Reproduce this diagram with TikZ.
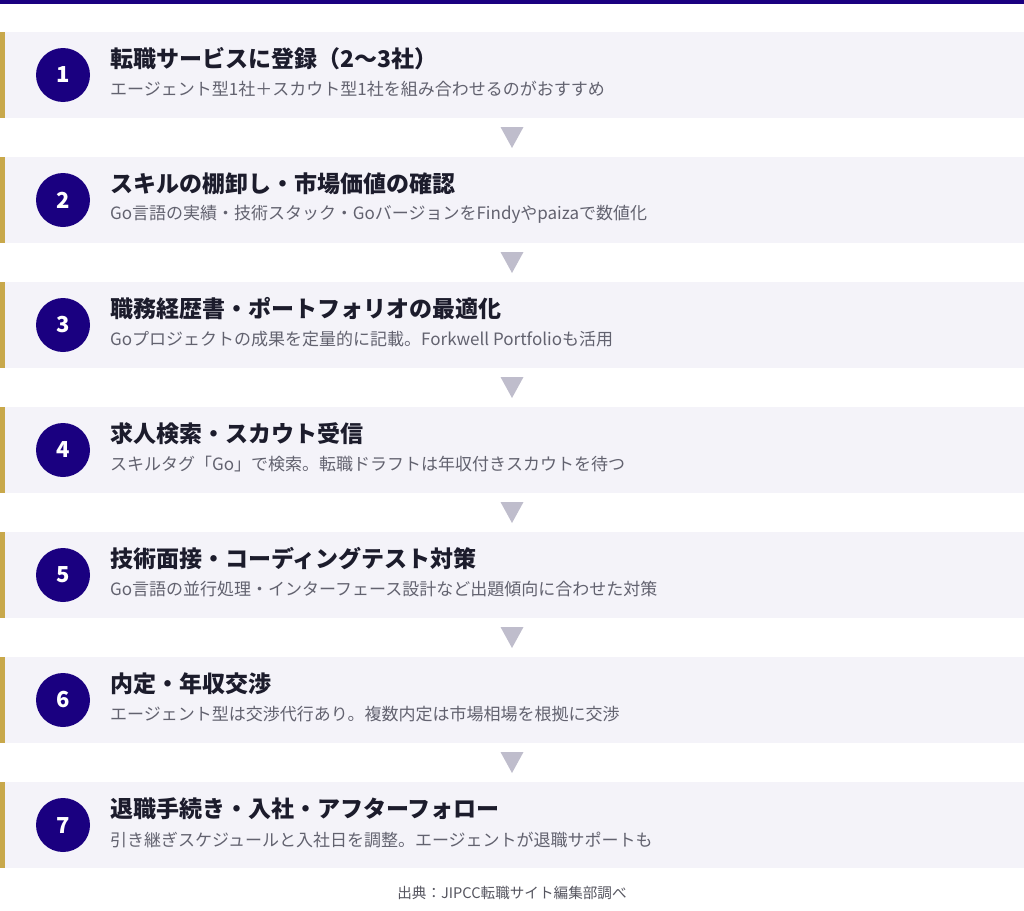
\documentclass[tikz,border=0pt]{standalone}
\usepackage{fontspec}
\setmainfont{Noto Sans CJK JP}
\usetikzlibrary{calc}
\definecolor{navy}{HTML}{1A0080}
\definecolor{gold}{HTML}{C8A84B}
\definecolor{rowbg}{HTML}{F4F3F9}
\definecolor{tricol}{HTML}{BFBDCC}
\definecolor{titlecol}{HTML}{1C1C2C}
\definecolor{subcol}{HTML}{62626F}
\definecolor{footcol}{HTML}{55555F}
\tikzset{
  rowbox/.style={fill=rowbg, draw=none, minimum width=1024pt, minimum height=86pt, inner sep=0pt, outer sep=0pt},
  numcirc/.style={circle, fill=navy, minimum size=54pt, inner sep=0pt, text=white, font=\fontsize{22}{26}\selectfont\bfseries},
  titletext/.style={anchor=west, inner sep=0pt, text=titlecol, font=\fontsize{23}{27}\selectfont\bfseries},
  subtext/.style={anchor=west, inner sep=0pt, text=subcol, font=\fontsize{17}{20}\selectfont},
  tri/.style={fill=tricol},
  foottext/.style={inner sep=0pt, text=footcol, font=\fontsize{14.6}{17}\selectfont}
}
\begin{document}
\begin{tikzpicture}[x=1pt,y=-1pt]
\useasboundingbox (0,0) rectangle (1024,910);
\fill[navy] (0,0) rectangle (1024,4);
\foreach \i/\t/\s in {
 1/{転職サービスに登録（2〜3社）}/{エージェント型1社＋スカウト型1社を組み合わせるのがおすすめ},
 2/{スキルの棚卸し・市場価値の確認}/{Go言語の実績・技術スタック・GoバージョンをFindyやpaizaで数値化},
 3/{職務経歴書・ポートフォリオの最適化}/{Goプロジェクトの成果を定量的に記載。Forkwell Portfolioも活用},
 4/{求人検索・スカウト受信}/{スキルタグ「Go」で検索。転職ドラフトは年収付きスカウトを待つ},
 5/{技術面接・コーディングテスト対策}/{Go言語の並行処理・インターフェース設計など出題傾向に合わせた対策},
 6/{内定・年収交渉}/{エージェント型は交渉代行あり。複数内定は市場相場を根拠に交渉},
 7/{退職手続き・入社・アフターフォロー}/{引き継ぎスケジュールと入社日を調整。エージェントが退職サポートも}}{
  \pgfmathsetmacro{\yc}{75+125*(\i-1)}
  \node[rowbox] (r\i) at (512,\yc) {};
  \fill[gold] (r\i.north west) rectangle ($(r\i.south west)+(5,0)$);
  \node[numcirc] (c\i) at (63,\yc) {\i};
  \node[titletext] (t\i) at (110,\yc-16.5) {\t};
  \node[subtext] (s\i) at (110,\yc+14.5) {\s};
}
\foreach \i in {1,...,6}{
  \fill[tri] ($(r\i.south)+(-11.5,9)$) -- ($(r\i.south)+(11.5,9)$) -- ($(r\i.south)+(0,30)$) -- cycle;
}
\node[foottext] (foot) at (512,893) {出典：JIPCC転職サイト編集部調べ};
\end{tikzpicture}
\end{document}
